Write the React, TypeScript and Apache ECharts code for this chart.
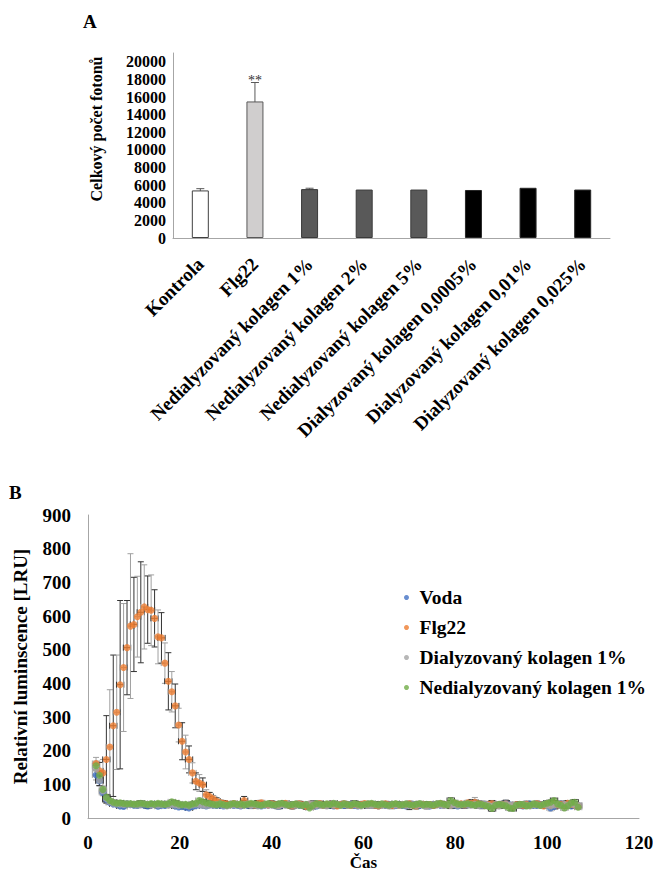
import React, { useEffect, useRef } from "react";
import * as echarts from "echarts";

const FONT = "'Liberation Serif', 'Times New Roman', serif";

// ---------- Chart A data ----------
const barCategories = [
  "Kontrola",
  "Flg22",
  "Nedialyzovaný kolagen 1%",
  "Nedialyzovaný kolagen 2%",
  "Nedialyzovaný kolagen 5%",
  "Dialyzovaný kolagen 0,0005%",
  "Dialyzovaný kolagen 0,01%",
  "Dialyzovaný kolagen 0,025%",
];
const barValues = [5400, 15500, 5550, 5500, 5500, 5450, 5700, 5500];
const barErrors = [200, 2150, 100, 0, 0, 0, 0, 0];
const barSignif = ["", "**", "", "", "", "", "", ""];
const barYTicks = [0, 2000, 4000, 6000, 8000, 10000, 12000, 14000, 16000, 18000, 20000];

// ---------- Chart B data ----------
const times = [
  1.75, 2.5, 3.25, 4, 4.75, 5.5, 6.25, 7, 7.75, 8.5,
  9.25, 10, 10.75, 11.5, 12.25, 13, 13.75, 14.5, 15.25, 16,
  16.75, 17.5, 18.25, 19, 19.75, 20.5, 21.25, 22, 22.75, 23.5,
  24.25, 25, 25.75, 26.5, 27.25, 28, 28.75, 29.5, 30.25, 31,
  31.75, 32.5, 33.25, 34, 34.75, 35.5, 36.25, 37, 37.75, 38.5,
  39.25, 40, 40.75, 41.5, 42.25, 43, 43.75, 44.5, 45.25, 46,
  46.75, 47.5, 48.25, 49, 49.75, 50.5, 51.25, 52, 52.75, 53.5,
  54.25, 55, 55.75, 56.5, 57.25, 58, 58.75, 59.5, 60.25, 61,
  61.75, 62.5, 63.25, 64, 64.75, 65.5, 66.25, 67, 67.75, 68.5,
  69.25, 70, 70.75, 71.5, 72.25, 73, 73.75, 74.5, 75.25, 76,
  76.75, 77.5, 78.25, 79, 79.75, 80.5, 81.25, 82, 82.75, 83.5,
  84.25, 85, 85.75, 86.5, 87.25, 88, 88.75, 89.5, 90.25, 91,
  91.75, 92.5, 93.25, 94, 94.75, 95.5, 96.25, 97, 97.75, 98.5,
  99.25, 100, 100.75, 101.5, 102.25, 103, 103.75, 104.5, 105.25, 106,
  106.75,
];

const voda = [
  128, 110, 76, 55, 46, 42, 40, 36, 34, 42,
  40, 38, 37, 40, 38, 36, 39, 41, 35, 38,
  37, 40, 41, 36, 33, 35, 32, 30, 34, 37,
  39, 38, 36, 40, 38, 37, 39, 36, 38, 40,
  37, 39, 36, 41, 38, 37, 40, 38, 36, 39,
  38, 40, 37, 35, 39, 41, 38, 36, 40, 38,
  37, 39, 41, 38, 36, 40, 38, 37, 39, 36,
  38, 40, 37, 39, 41, 38, 36, 39, 40, 37,
  39, 38, 36, 40, 38, 41, 39, 37, 40, 38,
  36, 39, 41, 38, 37, 40, 38, 36, 39, 41,
  38, 37, 40, 38, 39, 36, 41, 38, 40, 43,
  45, 41, 38, 40, 37, 42, 39, 38, 41, 44,
  40, 37, 39, 38, 36, 40, 42, 38, 37, 40,
  41, 38, 30, 34, 39, 42, 38, 40, 36, 39,
  37,
];
const vodaErr = [
  15, 14, 10, 8, 6, 5, 5, 6, 5, 6,
  5, 6, 7, 5, 6, 8, 5, 6, 7, 5,
  6, 5, 7, 6, 5, 8, 6, 5, 7, 6,
  5, 7, 6, 8, 5, 6, 7, 5, 6, 8,
  6, 5, 7, 6, 8, 5, 6, 7, 5, 6,
  7, 6, 5, 8, 6, 7, 5, 6, 8, 5,
  6, 7, 5, 6, 8, 6, 5, 7, 6, 5,
  8, 6, 7, 5, 6, 7, 5, 8, 6, 5,
  7, 6, 5, 8, 6, 7, 5, 6, 9, 6,
  5, 7, 6, 8, 5, 6, 7, 5, 6, 8,
  6, 5, 7, 6, 8, 5, 6, 7, 5, 9,
  10, 7, 6, 8, 5, 7, 6, 5, 8, 9,
  6, 5, 7, 6, 8, 6, 5, 7, 6, 8,
  7, 6, 9, 7, 6, 8, 5, 7, 6, 8,
  6,
];

const flg22 = [
  162, 140, 134, 174, 211, 274, 314, 396, 447, 506,
  570, 575, 598, 611, 627, 619, 617, 593, 538, 535,
  460, 406, 375, 333, 276, 228, 196, 174, 134, 109,
  104, 99, 69, 64, 57, 50, 46, 44, 42, 40,
  43, 41, 39, 52, 42, 40, 38, 43, 45, 41,
  39, 42, 40, 37, 41, 44, 38, 36, 40, 42,
  39, 35, 41, 38, 40, 43, 37, 39, 41, 38,
  36, 40, 42, 39, 37, 41, 38, 40, 43, 39,
  41, 38, 36, 40, 42, 39, 37, 41, 38, 40,
  39, 42, 38, 36, 40, 41, 38, 39, 37, 40,
  42, 39, 41, 38, 44, 40, 42, 39, 45, 43,
  47, 42, 40, 38, 41, 43, 39, 37, 40, 42,
  38, 36, 40, 39, 37, 41, 38, 40, 42, 39,
  36, 40, 38, 42, 39, 41, 37, 44, 40, 38,
  36,
];
const flg22Err = [
  18, 25, 40, 130, 170, 210, 170, 250, 190, 140,
  215, 140, 120, 150, 125, 100, 105, 85, 80, 75,
  60, 85, 60, 65, 50, 55, 50, 40, 30, 25,
  25, 20, 15, 12, 10, 10, 8, 8, 7, 8,
  8, 6, 9, 12, 7, 8, 6, 9, 8, 7,
  6, 9, 8, 7, 10, 6, 8, 9, 7, 8,
  7, 9, 6, 8, 10, 7, 8, 6, 9, 7,
  8, 6, 9, 7, 8, 10, 6, 8, 7, 9,
  6, 8, 7, 9, 8, 6, 10, 7, 8, 9,
  7, 8, 6, 9, 7, 8, 10, 6, 8, 7,
  9, 7, 8, 6, 9, 8, 7, 10, 8, 12,
  14, 9, 7, 8, 6, 9, 8, 7, 10, 8,
  7, 9, 6, 8, 7, 9, 8, 6, 10, 7,
  8, 7, 9, 6, 8, 7, 10, 8, 7, 9,
  8,
];

const dialyzovany = [
  145, 112, 80, 58, 48, 44, 42, 41, 40, 42,
  40, 41, 39, 40, 42, 40, 38, 41, 39, 40,
  42, 38, 40, 39, 37, 40, 38, 36, 39, 41,
  40, 38, 37, 41, 39, 40, 42, 38, 36, 40,
  39, 41, 38, 40, 42, 37, 39, 36, 38, 40,
  41, 39, 38, 36, 40, 38, 41, 39, 37, 40,
  38, 40, 42, 39, 37, 41, 38, 36, 40, 39,
  41, 38, 40, 37, 39, 42, 38, 36, 40, 38,
  37, 40, 39, 41, 38, 36, 40, 39, 38, 41,
  39, 37, 40, 38, 41, 39, 36, 38, 40, 42,
  39, 38, 41, 37, 40, 38, 39, 42, 40, 38,
  41, 37, 39, 42, 38, 35, 40, 36, 39, 41,
  38, 40, 37, 39, 41, 38, 36, 40, 39, 37,
  40, 38, 36, 39, 41, 37, 40, 38, 42, 39,
  38,
];
const dialyzovanyErr = [
  20, 16, 12, 9, 7, 6, 6, 5, 6, 5,
  7, 6, 5, 8, 6, 7, 5, 6, 8, 6,
  5, 7, 6, 8, 5, 6, 7, 9, 6, 5,
  8, 6, 7, 10, 6, 5, 8, 6, 7, 9,
  6, 8, 5, 7, 6, 9, 6, 7, 5, 8,
  7, 6, 9, 5, 8, 6, 7, 10, 6, 5,
  8, 6, 7, 12, 6, 8, 5, 7, 6, 9,
  6, 7, 5, 8, 10, 6, 7, 5, 8, 6,
  7, 9, 6, 5, 8, 6, 7, 5, 9, 6,
  8, 12, 6, 7, 5, 8, 10, 6, 7, 5,
  8, 6, 7, 9, 5, 8, 6, 7, 10, 6,
  7, 8, 12, 6, 9, 7, 5, 8, 6, 10,
  7, 6, 8, 9, 5, 7, 6, 8, 7, 6,
  9, 7, 6, 8, 5, 7, 9, 6, 8, 7,
  6,
];

const nedialyzovany = [
  155, 127, 85, 62, 52, 47, 44, 45, 43, 42,
  43, 41, 42, 44, 42, 40, 43, 41, 44, 42,
  40, 43, 48, 45, 42, 39, 41, 38, 42, 44,
  52, 48, 45, 43, 41, 39, 42, 40, 38, 41,
  43, 40, 42, 39, 41, 44, 42, 40, 38, 41,
  43, 40, 39, 42, 44, 41, 38, 40, 42, 39,
  37, 40, 30, 38, 43, 41, 39, 42, 40, 44,
  41, 38, 42, 40, 39, 43, 41, 38, 40, 42,
  44, 41, 39, 42, 40, 38, 41, 43, 40, 39,
  42, 40, 38, 41, 43, 39, 41, 40, 38, 42,
  44, 41, 39, 52, 46, 42, 40, 41, 43, 40,
  38, 42, 40, 37, 34, 28, 38, 41, 39, 36,
  30, 28, 38, 41, 40, 36, 38, 42, 40, 37,
  41, 44, 47, 52, 42, 38, 30, 36, 45, 47,
  32,
];
const nedialyzovanyErr = [
  14, 12, 10, 8, 6, 6, 5, 6, 5, 6,
  5, 6, 5, 7, 6, 5, 6, 7, 5, 6,
  6, 5, 7, 6, 5, 6, 5, 6, 7, 5,
  7, 6, 5, 6, 5, 7, 6, 5, 6, 7,
  5, 6, 7, 5, 6, 5, 7, 6, 5, 6,
  6, 5, 7, 6, 5, 6, 7, 5, 6, 5,
  7, 6, 5, 6, 7, 5, 6, 5, 7, 6,
  5, 6, 7, 5, 6, 7, 5, 6, 5, 7,
  6, 5, 7, 6, 5, 6, 7, 5, 6, 5,
  7, 6, 5, 6, 7, 5, 6, 7, 5, 6,
  5, 7, 6, 8, 6, 5, 7, 6, 5, 6,
  7, 5, 6, 7, 6, 8, 5, 6, 7, 6,
  8, 7, 5, 6, 7, 6, 5, 7, 6, 5,
  6, 7, 8, 7, 6, 5, 8, 6, 7, 8,
  7,
];
const timeErr = 0.8;
const lumTicks = [0, 100, 200, 300, 400, 500, 600, 700, 800, 900];
const timeTicks = [0, 20, 40, 60, 80, 100, 120];

const barFill = ["#ffffff", "#d0cece", "#595959", "#595959", "#595959", "#000000", "#000000", "#000000"];
const barBorder = ["#404040", "#595959", "#3a3a3a", "#3a3a3a", "#3a3a3a", "#262626", "#262626", "#262626"];

const seriesB = [
  { name: "Voda", vals: voda, errs: vodaErr, color: "#4472c4" },
  { name: "Flg22", vals: flg22, errs: flg22Err, color: "#ed7d31" },
  { name: "Dialyzovaný kolagen 1%", vals: dialyzovany, errs: dialyzovanyErr, color: "#a5a5a5" },
  { name: "Nedialyzovaný kolagen 1%", vals: nedialyzovany, errs: nedialyzovanyErr, color: "#70ad47" },
];

function errSeries(name: string, vals: number[], errs: number[]) {
  return {
    type: "custom",
    name: name + " (chyba)",
    xAxisIndex: 1,
    yAxisIndex: 1,
    silent: true,
    data: times.map((t, i) => [t, vals[i], errs[i]]),
    encode: { x: 0, y: 1 },
    renderItem: (params: any, api: any) => {
      const x = api.value(0) as number;
      const y = api.value(1) as number;
      const e = api.value(2) as number;
      const stroke = params.dataIndex % 2 ? "#333333" : "#a0a0a0";
      const top = api.coord([x, y + e]);
      const bot = api.coord([x, Math.max(0, y - e)]);
      const l = api.coord([x - timeErr, y]);
      const r = api.coord([x + timeErr, y]);
      const st = { stroke, lineWidth: 1 };
      const c = 3;
      return {
        type: "group",
        children: [
          { type: "line", shape: { x1: top[0], y1: top[1], x2: bot[0], y2: bot[1] }, style: st },
          { type: "line", shape: { x1: top[0] - c, y1: top[1], x2: top[0] + c, y2: top[1] }, style: st },
          { type: "line", shape: { x1: bot[0] - c, y1: bot[1], x2: bot[0] + c, y2: bot[1] }, style: st },
          { type: "line", shape: { x1: l[0], y1: l[1], x2: r[0], y2: r[1] }, style: st },
          { type: "line", shape: { x1: l[0], y1: l[1] - c, x2: l[0], y2: l[1] + c }, style: st },
          { type: "line", shape: { x1: r[0], y1: r[1] - c, x2: r[0], y2: r[1] + c }, style: st },
        ],
      };
    },
  };
}

export default function App() {
  const ref = useRef<HTMLDivElement>(null);
  useEffect(() => {
    if (!ref.current) return;
    const chart = echarts.init(ref.current, undefined, { renderer: "svg" });
    const boldText = { fontFamily: FONT, fontWeight: "bold" as const, color: "#000" };

    const bSeries: any[] = [];
    seriesB.forEach((s) => {
      bSeries.push(errSeries(s.name, s.vals, s.errs));
      bSeries.push({
        type: "scatter",
        name: s.name,
        xAxisIndex: 1,
        yAxisIndex: 1,
        symbol: "circle",
        symbolSize: 7,
        itemStyle: { color: s.color },
        data: times.map((t, i) => [t, s.vals[i]]),
      });
    });

    chart.setOption({
      animation: false,
      graphic: [
        { type: "text", left: 83, top: 12, style: { text: "A", font: `bold 19px ${FONT}`, fill: "#000" } },
        { type: "text", left: 9, top: 483, style: { text: "B", font: `bold 19px ${FONT}`, fill: "#000" } },
        {
          type: "text",
          x: 96,
          y: 129,
          rotation: Math.PI / 2,
          style: {
            text: "Celkový počet fotonů",
            font: `bold 16px ${FONT}`,
            fill: "#000",
            textAlign: "center",
            textVerticalAlign: "middle",
          },
        },
      ],
      grid: [
        { left: 173, right: 43, top: 53, bottom: 634, outerBoundsMode: "none", containLabel: false },
        { left: 88, right: 14, top: 515, bottom: 54, outerBoundsMode: "none", containLabel: false },
      ],
      legend: {
        data: seriesB.map((s) => s.name),
        orient: "vertical",
        left: 404,
        top: 587,
        padding: 0,
        itemWidth: 16,
        itemHeight: 5,
        itemGap: 9,
        icon: "circle",
        textStyle: { ...boldText, fontSize: 19.5, lineHeight: 21 },
      },
      xAxis: [
        {
          type: "category",
          gridIndex: 0,
          data: barCategories,
          axisLine: { lineStyle: { color: "#a6a6a6", width: 1 } },
          axisTick: { show: false },
          axisLabel: { ...boldText, fontSize: 19, rotate: 45, interval: 0, margin: 23, hideOverlap: false },
        },
        {
          type: "value",
          gridIndex: 1,
          min: timeTicks[0],
          max: timeTicks[timeTicks.length - 1],
          interval: 20,
          axisLine: { lineStyle: { color: "#a6a6a6", width: 1 } },
          axisTick: { show: false },
          splitLine: { show: false },
          axisLabel: { ...boldText, fontSize: 19, margin: 15 },
          name: "Čas",
          nameLocation: "middle",
          nameGap: 36,
          nameTextStyle: { ...boldText, fontSize: 17, lineHeight: 17 },
        },
      ],
      yAxis: [
        {
          type: "value",
          gridIndex: 0,
          min: barYTicks[0],
          max: 21000,
          interval: 2000,
          axisLine: { show: true, lineStyle: { color: "#a6a6a6", width: 1 } },
          axisTick: { show: false },
          splitLine: { show: false },
          axisLabel: {
            ...boldText,
            fontSize: 16,
            margin: 7,
            formatter: (v: number) => (barYTicks.indexOf(v) >= 0 ? String(v) : ""),
          },
        },
        {
          type: "value",
          gridIndex: 1,
          min: lumTicks[0],
          max: lumTicks[lumTicks.length - 1],
          interval: 100,
          axisLine: { show: true, lineStyle: { color: "#a6a6a6", width: 1 } },
          axisTick: { show: false },
          splitLine: { show: false },
          axisLabel: { ...boldText, fontSize: 19, margin: 17 },
          name: "Relativní luminscence [LRU]",
          nameLocation: "middle",
          nameGap: 58,
          nameRotate: 90,
          nameTextStyle: { ...boldText, fontSize: 19 },
        },
      ],
      series: [
        {
          type: "bar",
          xAxisIndex: 0,
          yAxisIndex: 0,
          barWidth: 17,
          silent: true,
          data: barValues.map((v, i) => ({
            value: v,
            itemStyle: { color: barFill[i], borderColor: barBorder[i], borderWidth: 1 },
          })),
        },
        {
          type: "custom",
          xAxisIndex: 0,
          yAxisIndex: 0,
          silent: true,
          data: barValues.map((v, i) => [i, v, barErrors[i]]),
          encode: { x: 0, y: 1 },
          renderItem: (params: any, api: any) => {
            const i = api.value(0) as number;
            const v = api.value(1) as number;
            const e = api.value(2) as number;
            const top = api.coord([i, v + e]);
            const bot = api.coord([i, v - e]);
            const st = { stroke: "#595959", lineWidth: 1 };
            const c = 4;
            const children: any[] = [];
            if (e > 0) {
              children.push(
                { type: "line", shape: { x1: top[0], y1: top[1], x2: bot[0], y2: bot[1] }, style: st },
                { type: "line", shape: { x1: top[0] - c, y1: top[1], x2: top[0] + c, y2: top[1] }, style: st },
                { type: "line", shape: { x1: bot[0] - c, y1: bot[1], x2: bot[0] + c, y2: bot[1] }, style: st }
              );
            }
            const s = barSignif[params.dataIndex];
            if (s) {
              children.push({
                type: "text",
                x: top[0],
                y: top[1] + 5,
                style: {
                  text: s,
                  font: `14px ${FONT}`,
                  fill: "#333",
                  textAlign: "center",
                  textVerticalAlign: "bottom",
                },
              });
            }
            return { type: "group", children };
          },
        },
        ...bSeries,
      ],
    });
    return () => chart.dispose();
  }, []);
  return (
    <div
      ref={ref}
      style={{ position: "fixed", left: 0, top: 0, width: 653, height: 872, background: "#fff" }}
    />
  );
}
